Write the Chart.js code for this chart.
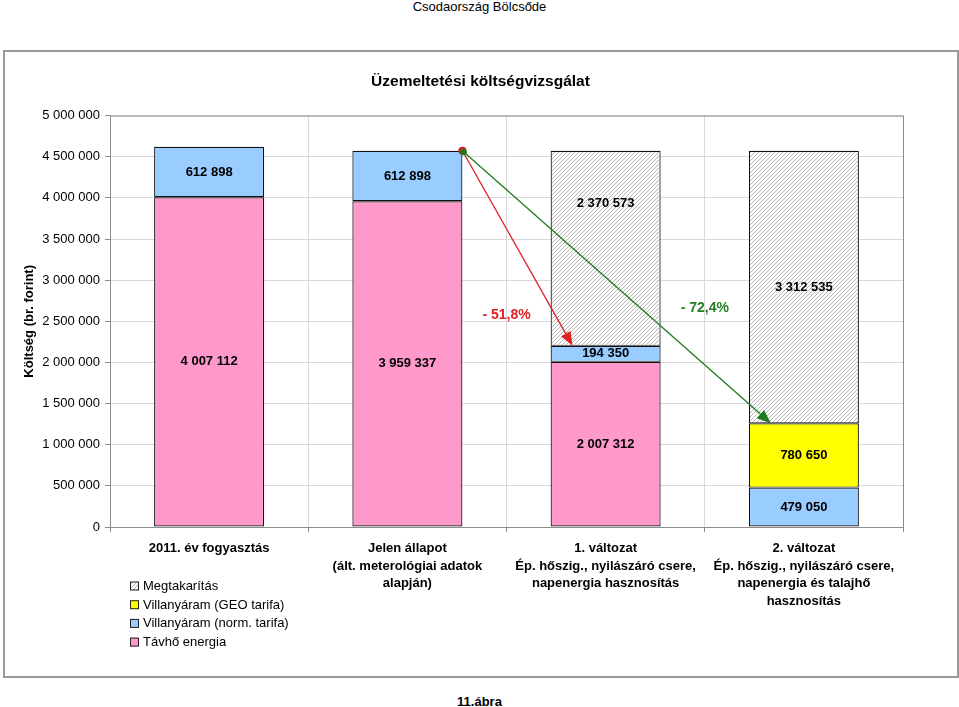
<!DOCTYPE html>
<html><head><meta charset="utf-8">
<script src="https://cdn.jsdelivr.net/npm/chart.js@4"></script>
<style>
body{margin:0;background:#fff;font-family:"Liberation Sans",Arial,sans-serif;width:959px;height:707px;overflow:hidden;position:relative;}
#hdr{position:absolute;left:0;width:959px;top:0;line-height:14px;text-align:center;font-size:13px;color:#000;}
#box{position:absolute;left:3px;top:50px;width:952px;height:624px;border:2px solid #9a9a9a;box-sizing:content-box;}
#wrap{position:absolute;left:4px;top:51px;width:953px;height:625px;}
#ftr{position:absolute;left:0;width:959px;top:695px;line-height:14px;text-align:center;font-size:13px;font-weight:bold;color:#000;}
</style></head>
<body>
<div id="hdr">Csodaország Bölcsőde</div>
<div id="box"></div>
<div id="wrap"><canvas id="c" width="953" height="625"></canvas></div>
<div id="ftr">11.ábra</div>
<script>
const categories = [
  ["2011. év fogyasztás"],
  ["Jelen állapot", "(ált. meterológiai adatok", "alapján)"],
  ["1. változat", "Ép. hőszig., nyilászáró csere,", "napenergia hasznosítás"],
  ["2. változat", "Ép. hőszig., nyilászáró csere,", "napenergia és talajhő", "hasznosítás"]
];
const seriesNames = ["Távhő energia", "Villanyáram (norm. tarifa)", "Villanyáram (GEO tarifa)", "Megtakarítás"];
const tavho = [4007112, 3959337, 2007312, null];
const villanyNorm = [612898, 612898, 194350, 479050];
const villanyGeo = [null, null, null, 780650];
const megtakaritas = [null, null, 2370573, 3312535];
const yTicks = [0, 500000, 1000000, 1500000, 2000000, 2500000, 3000000, 3500000, 4000000, 4500000, 5000000];

const FONT = '"Liberation Sans", Arial, sans-serif';
const fmt = v => String(Math.round(v)).replace(/\B(?=(\d{3})+(?!\d))/g, ' ');

function hatchPattern() {
  const c = document.createElement('canvas');
  c.width = 4; c.height = 4;
  const g = c.getContext('2d');
  g.fillStyle = '#ffffff'; g.fillRect(0, 0, 4, 4);
  g.strokeStyle = '#b4b4b4'; g.lineWidth = 1;
  g.beginPath();
  g.moveTo(0, 4); g.lineTo(4, 0);
  g.moveTo(-1, 1); g.lineTo(1, -1);
  g.moveTo(3, 5); g.lineTo(5, 3);
  g.stroke();
  return document.getElementById('c').getContext('2d').createPattern(c, 'repeat');
}
const hatch = hatchPattern();
const colors = ['#ff99cc', '#99ccff', '#ffff00', hatch];

const seriesData = [tavho, villanyNorm, villanyGeo, megtakaritas];
const datasets = seriesData.map((d, i) => ({
  label: seriesNames[i], data: d, backgroundColor: colors[i],
  borderColor: '#111', borderWidth: 1.2, borderSkipped: false
}));

const plotBorder = {
  id: 'plotBorder',
  beforeDatasetsDraw(chart) {
    const {ctx, chartArea: a} = chart;
    ctx.save(); ctx.strokeStyle = '#8c8c8c'; ctx.lineWidth = 1;
    ctx.strokeRect(a.left + 0.5, a.top + 0.5, a.right - a.left, a.bottom - a.top);
    ctx.restore();
  }
};

const valueLabels = {
  id: 'valueLabels',
  afterDatasetsDraw(chart, args, opts) {
    const ctx = chart.ctx;
    ctx.save();
    ctx.font = 'bold 13px ' + FONT; ctx.fillStyle = '#000';
    ctx.textAlign = 'center'; ctx.textBaseline = 'middle';
    chart.data.datasets.forEach((ds, di) => {
      chart.getDatasetMeta(di).data.forEach((el, i) => {
        const v = ds.data[i];
        if (v == null) return;
        let dy = 0;
        (opts.nudges || []).forEach(n => { if (n.dataset === di && n.index === i) dy = n.dy; });
        ctx.fillText(fmt(v), el.x, (el.y + el.base) / 2 + dy);
      });
    });
    ctx.restore();
  }
};

function arrow(ctx, x1, y1, x2, y2, color) {
  const ang = Math.atan2(y2 - y1, x2 - x1), L = 14, W = 5.5;
  const bx = x2 - L * Math.cos(ang), by = y2 - L * Math.sin(ang);
  ctx.strokeStyle = color; ctx.fillStyle = color; ctx.lineWidth = 1.3;
  ctx.beginPath(); ctx.moveTo(x1, y1); ctx.lineTo(bx, by); ctx.stroke();
  ctx.beginPath(); ctx.moveTo(x2, y2);
  ctx.lineTo(bx + W * Math.sin(ang), by - W * Math.cos(ang));
  ctx.lineTo(bx - W * Math.sin(ang), by + W * Math.cos(ang));
  ctx.closePath(); ctx.fill();
}

const arrows = {
  id: 'arrows',
  afterDatasetsDraw(chart, args, opts) {
    const ctx = chart.ctx, ys = chart.scales.y, xs = chart.scales.x;
    const total = i => seriesData.reduce((s, d) => s + (d[i] || 0), 0);
    const el = (di, i) => chart.getDatasetMeta(di).data[i];
    const b2 = el(1, 1);
    const sx = b2.x + b2.width / 2, sy = ys.getPixelForValue(total(1));
    ctx.save();
    opts.items.forEach(it => {
      const e = el(1, it.index);
      const endVal = seriesData.slice(0, it.upto + 1).reduce((s, d) => s + (d[it.index] || 0), 0);
      const ex = e.x - e.width / 2 + e.width * 0.2, ey = ys.getPixelForValue(endVal);
      arrow(ctx, sx, sy, ex, ey, it.color);
      const pct = ((1 - endVal / total(1)) * 100).toFixed(1).replace('.', ',');
      ctx.font = 'bold 14px ' + FONT; ctx.fillStyle = it.textColor;
      ctx.textAlign = 'center'; ctx.textBaseline = 'middle';
      ctx.fillText('- ' + pct + '%', xs.getPixelForValue(it.labelAt), ys.getPixelForValue(it.labelValue));
    });
    ctx.beginPath(); ctx.arc(sx, sy, 4, 0, Math.PI * 2); ctx.fillStyle = '#d42020'; ctx.fill();
    ctx.beginPath(); ctx.arc(sx + 1.2, sy + 1.2, 3.2, 0, Math.PI * 2); ctx.fillStyle = '#1f7a1f'; ctx.fill();
    ctx.restore();
  }
};

const customLegend = {
  id: 'customLegend',
  afterDraw(chart, args, opts) {
    const ctx = chart.ctx, a = chart.chartArea;
    ctx.save();
    ctx.font = '13px ' + FONT; ctx.textBaseline = 'middle'; ctx.textAlign = 'left';
    const order = [3, 2, 1, 0];
    order.forEach((di, k) => {
      const x = a.left + opts.dx, y = a.bottom + opts.dy + k * opts.step;
      ctx.fillStyle = chart.data.datasets[di].backgroundColor;
      ctx.fillRect(x, y - 4.5, 9, 9);
      ctx.strokeStyle = '#222'; ctx.lineWidth = 1;
      ctx.strokeRect(x + 0.5, y - 4.5 + 0.5, 8, 8);
      ctx.fillStyle = '#000';
      ctx.fillText(chart.data.datasets[di].label, x + 13, y + 0.5);
    });
    ctx.restore();
  }
};

new Chart(document.getElementById('c'), {
  type: 'bar',
  data: { labels: categories, datasets },
  options: {
    responsive: false, animation: false,
    layout: { padding: { left: 0, right: 0, top: 0, bottom: 0 } },
    datasets: { bar: { categoryPercentage: 1, barPercentage: 0.555 } },
    plugins: {
      legend: { display: false }, tooltip: { enabled: false },
      title: { display: true, text: 'Üzemeltetési költségvizsgálat', color: '#000',
        font: { family: FONT, size: 15.5, weight: 'bold' }, padding: { top: 21, bottom: 25 } },
      valueLabels: { nudges: [{ dataset: 3, index: 2, dy: -45 }] },
      arrows: { items: [
        { index: 2, upto: 1, color: '#e02222', textColor: '#e02222', labelAt: 1.5, labelValue: 2580000 },
        { index: 3, upto: 2, color: '#1f7a1f', textColor: '#238023', labelAt: 2.5, labelValue: 2660000 }
      ] },
      customLegend: { dx: 20, dy: 59, step: 18.7 }
    },
    scales: {
      x: {
        stacked: true,
        afterFit: s => { s.height = 149; },
        grid: { offset: true, color: '#d9d9d9', tickColor: '#8c8c8c', tickLength: 5 },
        border: { color: '#8c8c8c' },
        ticks: { color: '#000', font: { family: FONT, size: 13, weight: 'bold', lineHeight: 1.35 }, padding: 8, maxRotation: 0, autoSkip: false }
      },
      y: {
        stacked: true, min: 0, max: 5000000,
        afterFit: s => { s.width = 106; },
        afterBuildTicks: s => { s.ticks = yTicks.map(v => ({ value: v })); },
        grid: { color: '#d9d9d9', tickColor: '#8c8c8c', tickLength: 5 },
        border: { color: '#8c8c8c' },
        ticks: { color: '#000', font: { family: FONT, size: 13 }, padding: 5, callback: v => fmt(v) },
        title: { display: true, text: 'Költség (br. forint)', color: '#000',
          font: { family: FONT, size: 13, weight: 'bold' }, padding: { top: 18, bottom: 0 } }
      },
      yr: {
        position: 'right', min: 0, max: 5000000,
        afterFit: s => { s.width = 54; },
        grid: { display: false, drawTicks: false }, border: { display: false },
        ticks: { display: false }
      }
    }
  },
  plugins: [plotBorder, valueLabels, arrows, customLegend]
});
</script>
</body></html>
